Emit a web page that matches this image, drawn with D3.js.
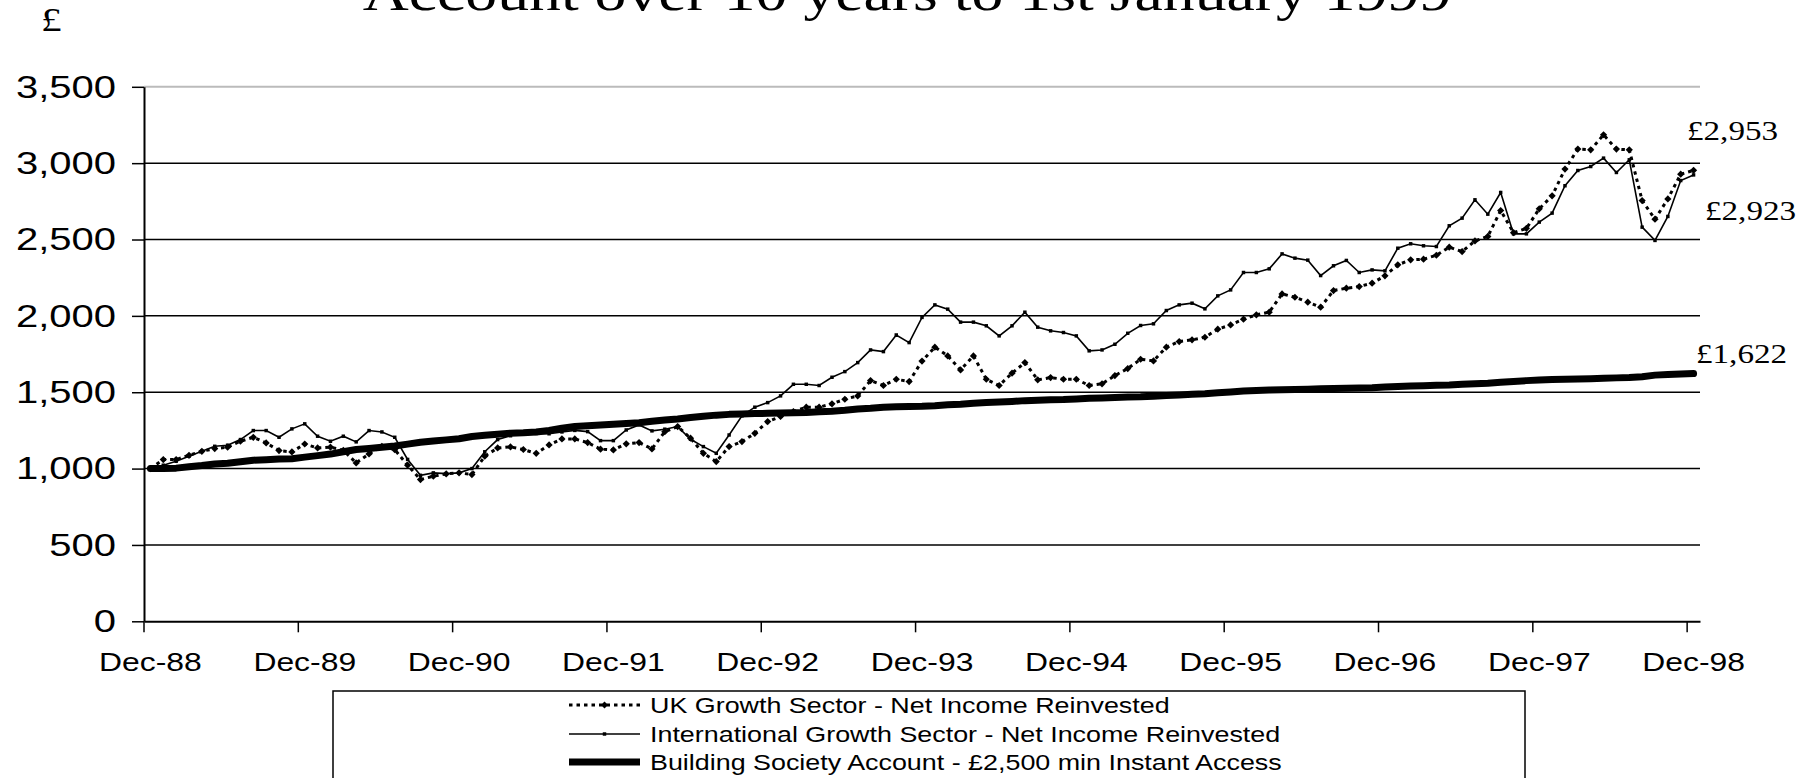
<!DOCTYPE html>
<html>
<head>
<meta charset="utf-8">
<script src="https://cdn.jsdelivr.net/npm/d3@7"></script>
<style>
  html, body { margin: 0; padding: 0; background: #fff; overflow: hidden; }
</style>
</head>
<body>
<div id="chart"></div>
<script>
// categories: one per month, Dec-88 .. Dec-98 (121 months)
const months = d3.timeMonth.range(new Date(1988, 11, 1), new Date(1999, 0, 1));
const yTicks = [0, 500, 1000, 1500, 2000, 2500, 3000, 3500];

const seriesNames = [
    "UK Growth Sector - Net Income Reinvested",
    "International Growth Sector - Net Income Reinvested",
    "Building Society Account - £2,500 min Instant Access"
];

const ukGrowth = [
    1000, 1059, 1059, 1087, 1113, 1131, 1140, 1179, 1205, 1168,
    1118, 1109, 1161, 1135, 1140, 1120, 1037, 1096, 1146, 1124,
    1022, 928, 950, 965, 972, 961, 1081, 1135, 1142, 1125,
    1100, 1155, 1194, 1194, 1170, 1127, 1122, 1162, 1170, 1129,
    1242, 1275, 1199, 1100, 1046, 1144, 1177, 1231, 1308, 1341,
    1373, 1402, 1402, 1424, 1454, 1476, 1576, 1544, 1585, 1570,
    1704, 1795, 1738, 1646, 1738, 1585, 1544, 1625, 1694, 1581,
    1596, 1585, 1585, 1544, 1555, 1609, 1655, 1716, 1705, 1795,
    1832, 1843, 1860, 1913, 1941, 1978, 2007, 2024, 2144, 2122,
    2090, 2057, 2166, 2181, 2192, 2214, 2262, 2334, 2367, 2371,
    2397, 2450, 2421, 2491, 2520, 2690, 2545, 2573, 2701, 2786,
    2961, 3092, 3087, 3186, 3092, 3087, 2755, 2633, 2766, 2928, 2953
];

const intlGrowth = [
    1000, 1022, 1048, 1081, 1114, 1146, 1153, 1190, 1249, 1249,
    1205, 1260, 1293, 1212, 1179, 1212, 1175, 1249, 1240, 1205,
    1060, 956, 972, 967, 972, 1000, 1110, 1190, 1215, 1235,
    1230, 1228, 1240, 1250, 1242, 1183, 1183, 1253, 1286, 1247,
    1258, 1275, 1192, 1144, 1100, 1220, 1345, 1402, 1432, 1476,
    1552, 1552, 1544, 1598, 1635, 1694, 1777, 1766, 1875, 1825,
    1990, 2072, 2044, 1959, 1959, 1935, 1869, 1935, 2024, 1926,
    1902, 1891, 1869, 1771, 1777, 1814, 1886, 1937, 1948, 2035,
    2072, 2083, 2046, 2131, 2170, 2284, 2284, 2308, 2406, 2378,
    2365, 2264, 2328, 2363, 2284, 2301, 2295, 2443, 2472, 2459,
    2454, 2590, 2640, 2760, 2666, 2808, 2537, 2537, 2614, 2673,
    2852, 2952, 2978, 3033, 2939, 3022, 2581, 2494, 2651, 2886, 2923
];

const buildingSociety = [
    1000, 1000, 1003, 1012, 1020, 1030, 1035, 1045, 1055, 1058,
    1062, 1065, 1075, 1085, 1095, 1110, 1125, 1132, 1140, 1148,
    1160, 1172, 1180, 1188, 1195, 1210, 1218, 1225, 1232, 1235,
    1240, 1250, 1265, 1275, 1280, 1285, 1290, 1295, 1300, 1310,
    1318, 1325, 1335, 1342, 1350, 1355, 1358, 1360, 1362, 1364,
    1366, 1368, 1372, 1376, 1382, 1390, 1395, 1402, 1405, 1406,
    1408, 1412, 1418, 1422, 1428, 1432, 1436, 1440, 1445, 1448,
    1450, 1452, 1456, 1460, 1462, 1465, 1468, 1470, 1474, 1478,
    1482, 1486, 1490, 1496, 1502, 1508, 1512, 1514, 1516, 1518,
    1520, 1522, 1524, 1526, 1528, 1530, 1534, 1537, 1540, 1543,
    1546, 1548, 1552, 1555, 1559, 1565, 1570, 1576, 1580, 1583,
    1585, 1587, 1589, 1591, 1594, 1597, 1602, 1612, 1616, 1620, 1622
];

const width = 1814;
const height = 778;
const SX = 1.25;   // the original picture is stretched sideways
const sans = "Arial, 'Liberation Sans', sans-serif";
const serif = "'Times New Roman', 'Liberation Serif', serif";

const svg = d3.select("#chart").append("svg")
    .attr("width", width)
    .attr("height", height)
    .attr("viewBox", [0, 0, width, height]);

const x = d3.scaleBand(months, [144, 1700]);
const bw = x.bandwidth();
const y = d3.scaleLinear([0, 3500], [621.3, 86.8]);

function stretchedText(parent, tx, ty, str, size, family, anchor) {
    return parent.append("text")
        .attr("transform", `translate(${tx},${ty}) scale(${SX},1)`)
        .attr("text-anchor", anchor || "start")
        .attr("font-family", family)
        .attr("font-size", size)
        .attr("fill", "#000")
        .text(str);
}

// title (cut by the top edge, as in the original) and unit
stretchedText(svg, width / 2, 10, "Account over 10 years to 1st January 1999", 51, serif, "middle");
stretchedText(svg, 41, 31, "£", 33, serif, "start");

// gridlines
svg.append("g")
    .selectAll("line")
    .data(yTicks.filter(d => d > 0))
    .join("line")
    .attr("x1", 144)
    .attr("x2", 1700)
    .attr("y1", d => y(d))
    .attr("y2", d => y(d))
    .attr("stroke", d => d === 3500 ? "#bbb" : "#000")
    .attr("stroke-width", d => d === 3500 ? 2 : 1.5);

// y axis
const yAxis = svg.append("g")
    .attr("transform", "translate(144,0)")
    .call(d3.axisLeft(y).tickValues(yTicks).tickSize(12).tickSizeOuter(0).tickFormat(d3.format(",")));
yAxis.select(".domain").attr("stroke", "#000").attr("stroke-width", 2);
yAxis.selectAll(".tick line").attr("stroke", "#000").attr("stroke-width", 1.5);
yAxis.selectAll("text")
    .attr("x", -28 / SX)
    .attr("transform", `scale(${SX},1)`)
    .attr("font-family", sans)
    .attr("font-size", 32)
    .attr("fill", "#000");

// x axis: ticks between categories, labels every December
const fmt = d3.timeFormat("%b-%y");
const xAxis = svg.append("g")
    .attr("transform", `translate(0,${y(0)})`)
    .call(d3.axisBottom(x).tickValues(months.filter(m => m.getMonth() === 11)).tickSize(11).tickSizeOuter(0).tickFormat(fmt));
xAxis.select(".domain").attr("stroke", "#000").attr("stroke-width", 2);
xAxis.selectAll(".tick line")
    .attr("x1", -bw / 2)
    .attr("x2", -bw / 2)
    .attr("stroke", "#000")
    .attr("stroke-width", 1.5);
xAxis.selectAll("text")
    .attr("y", 49.5)
    .attr("dy", null)
    .attr("transform", `scale(${SX},1)`)
    .attr("font-family", sans)
    .attr("font-size", 25.5)
    .attr("fill", "#000");

const line = d3.line()
    .x((d, i) => x(months[i]) + bw / 2)
    .y(d => y(d));

// UK growth: dotted with diamonds
svg.append("path")
    .datum(ukGrowth)
    .attr("d", line)
    .attr("fill", "none")
    .attr("stroke", "#000")
    .attr("stroke-width", 3)
    .attr("stroke-dasharray", "3.5,4");
svg.append("g")
    .selectAll("path")
    .data(ukGrowth)
    .join("path")
    .attr("d", d3.symbol(d3.symbolSquare, 26))
    .attr("transform", (d, i) => `translate(${x(months[i]) + bw / 2},${y(d)}) rotate(45)`)
    .attr("fill", "#000");

// International growth: thin solid with small squares
svg.append("path")
    .datum(intlGrowth)
    .attr("d", line)
    .attr("fill", "none")
    .attr("stroke", "#000")
    .attr("stroke-width", 1.6);
svg.append("g")
    .selectAll("path")
    .data(intlGrowth)
    .join("path")
    .attr("d", d3.symbol(d3.symbolSquare, 12))
    .attr("transform", (d, i) => `translate(${x(months[i]) + bw / 2},${y(d)})`)
    .attr("fill", "#000");

// Building society: thick solid
svg.append("path")
    .datum(buildingSociety)
    .attr("d", line)
    .attr("fill", "none")
    .attr("stroke", "#000")
    .attr("stroke-width", 7)
    .attr("stroke-linejoin", "round")
    .attr("stroke-linecap", "round");

// end value labels
const last = arr => arr[arr.length - 1];
const money = v => "£" + d3.format(",")(v);
stretchedText(svg, 1687, y(last(ukGrowth)) - 30, money(last(ukGrowth)), 26.5, serif);
stretchedText(svg, 1705, y(last(intlGrowth)) + 45, money(last(intlGrowth)), 26.5, serif);
stretchedText(svg, 1696, y(last(buildingSociety)) - 10.5, money(last(buildingSociety)), 26.5, serif);

// legend
const legend = svg.append("g");
legend.append("rect")
    .attr("x", 333)
    .attr("y", 691)
    .attr("width", 1192)
    .attr("height", 130)
    .attr("fill", "#fff")
    .attr("stroke", "#000")
    .attr("stroke-width", 1.5);

const rowY = [705, 734, 762];
const rows = legend.selectAll("g.row")
    .data(seriesNames)
    .join("g")
    .attr("class", "row")
    .attr("transform", (d, i) => `translate(0,${rowY[i]})`);

rows.append("line")
    .attr("x1", 569)
    .attr("x2", 640)
    .attr("stroke", "#000")
    .attr("stroke-width", (d, i) => [3, 1.6, 7][i])
    .attr("stroke-dasharray", (d, i) => i === 0 ? "3.5,4" : null);

rows.filter((d, i) => i === 0).append("path")
    .attr("d", d3.symbol(d3.symbolSquare, 26))
    .attr("transform", "translate(604.5,0) rotate(45)");
rows.filter((d, i) => i === 1).append("path")
    .attr("d", d3.symbol(d3.symbolSquare, 12))
    .attr("transform", "translate(604.5,0)");

rows.each(function(d) {
    stretchedText(d3.select(this), 650, 0, d, 21.5, sans).attr("dy", "0.36em");
});
</script>
</body>
</html>
